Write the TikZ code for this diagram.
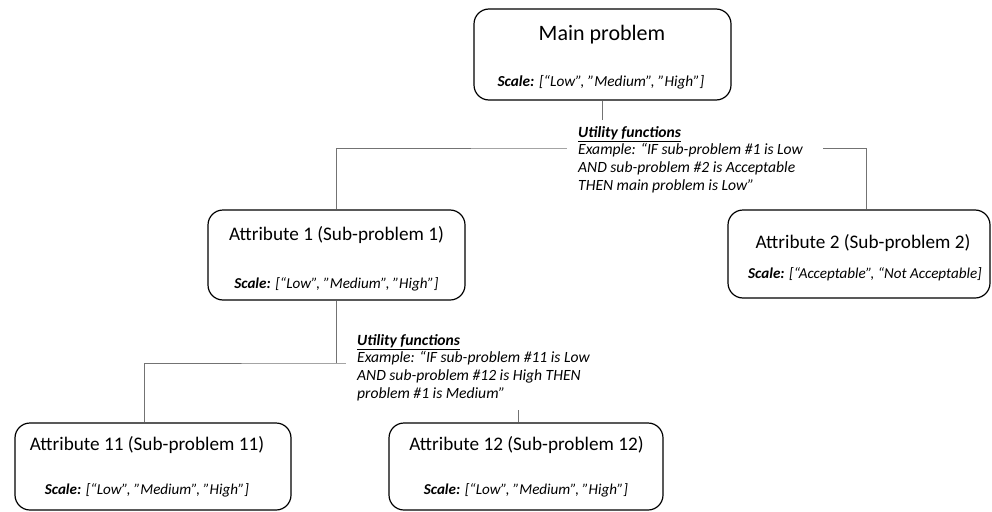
\documentclass[tikz,border=0pt]{standalone}
\usepackage{fontspec}
\setmainfont{Carlito}
\usetikzlibrary{calc}
\begin{document}
\begin{tikzpicture}[x=1pt,y=-1pt,
  box/.style={draw=black, line width=1.2pt, rounded corners=15pt, inner sep=0pt},
  conn/.style={draw=black!55, line width=0.9pt},
  ttl/.style={anchor=base, inner sep=0pt, font=\fontsize{19.2}{23}\selectfont},
  maintl/.style={anchor=base, inner sep=0pt, font=\fontsize{22}{26}\selectfont},
  scl/.style={anchor=base, inner sep=0pt, font=\fontsize{15.1}{18}\selectfont\itshape},
  cover/.style={fill=white, draw=none, inner sep=0pt, anchor=north west},
  util/.style={anchor=base west, inner sep=0pt, font=\fontsize{15.6}{17.7}\selectfont\itshape}]
\useasboundingbox (0,0) rectangle (992,511);

% boxes
\node[box, minimum width=257pt, minimum height=91pt] (main) at (602.5,54.5) {};
\node[box, minimum width=257pt, minimum height=90pt] (a1) at (336.5,255) {};
\node[box, minimum width=262pt, minimum height=88pt] (a2) at (859,254) {};
\node[box, minimum width=276pt, minimum height=87pt] (a11) at (153,466.5) {};
\node[box, minimum width=274pt, minimum height=87pt] (a12) at (526,466.5) {};

% connector junctions
\coordinate (j1) at (602.5,148);
\coordinate (j2) at (336.5,363);
\coordinate (a2in) at ($(a2.north)+(7,0)$);
\coordinate (a11in) at ($(a11.north)+(-9,0)$);
\coordinate (a12in) at ($(a12.north)+(-8,0)$);

\draw[conn] (main.south) -- (j1);
\draw[conn] (a1.north) |- (j1) -| (a2in);
\draw[conn] (a1.south) -- (j2);
\draw[conn] (a11in) |- (j2) -| (a12in);

% white backgrounds of the rule texts
\node[cover, minimum width=256pt, minimum height=80pt] (c1) at (567,120) {};
\node[cover, minimum width=270pt, minimum height=80pt] (c2) at (346,330) {};

% texts in boxes
\node[maintl] (mainT) at (602,41) {Main problem};
\node[scl, font=\fontsize{15.3}{18}\selectfont\itshape] (mainS) at (601,86) {\textbf{Scale:} [“Low”, ”Medium”, ”High”]};

\node[ttl] (a1T) at (336.5,240) {Attribute 1 (Sub-problem 1)};
\node[scl] (a1S) at (336.5,288) {\textbf{Scale:} [“Low”, ”Medium”, ”High”]};

\node[ttl] (a2T) at (863,248) {Attribute 2 (Sub-problem 2)};
\node[scl] (a2S) at (865,278) {\textbf{Scale:} [“Acceptable”, “Not Acceptable]};

\node[ttl] (a11T) at (147,450) {Attribute 11 (Sub-problem 11)};
\node[scl] (a11S) at (147,494) {\textbf{Scale:} [“Low”, ”Medium”, ”High”]};

\node[ttl] (a12T) at (526.5,450) {Attribute 12 (Sub-problem 12)};
\node[scl] (a12S) at (526,494) {\textbf{Scale:} [“Low”, ”Medium”, ”High”]};

% utility function texts
\node[util] (u1) at (578,137) {\vtop{\hbox{\bfseries\underline{Utility functions}}\hbox{Example: “IF sub-problem \#1 is Low}\hbox{AND sub-problem \#2 is Acceptable}\hbox{THEN main problem is Low”}}};
\node[util] (u2) at (357,345) {\vtop{\hbox{\bfseries\underline{Utility functions}}\hbox{Example: “IF sub-problem \#11 is Low}\hbox{AND sub-problem \#12 is High THEN}\hbox{problem \#1 is Medium”}}};
\end{tikzpicture}
\end{document}
